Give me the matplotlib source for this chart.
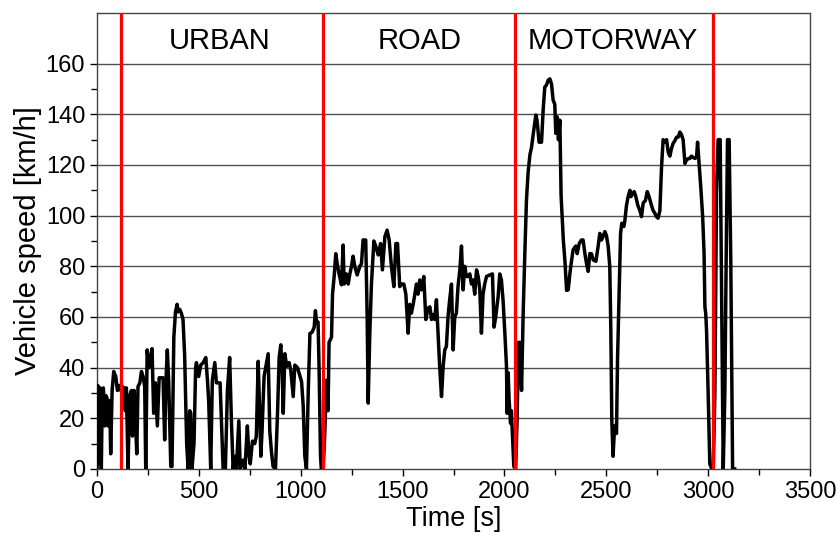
import matplotlib
matplotlib.use("Agg")
import matplotlib.pyplot as plt
import numpy as np
from matplotlib.ticker import MultipleLocator, FixedLocator

# ---- data ----
time_urban = [0, 3, 8, 11, 15, 21, 26, 31, 38, 43, 49, 54, 62, 67, 74, 82, 92, 100, 108, 116,
              125, 133, 139, 144, 152, 160, 169, 174, 182, 188, 195, 201, 210, 218, 226, 234, 239,
              246, 254, 262, 270, 278, 286, 296, 305, 316, 324, 332, 340, 345, 352, 362, 368, 377,
              385, 393, 398, 406, 414, 422, 430, 440, 447, 455, 460, 466, 476, 484, 488, 499, 509,
              521, 534, 542, 548, 558, 566, 578, 586, 595, 604, 619, 630, 640, 651, 660, 668, 676,
              684, 696, 703, 717, 726, 738, 745, 752, 763, 774, 782, 791, 799, 804, 810, 820, 832,
              840, 848, 856, 864, 876, 886, 894, 902, 909, 914, 922, 931, 943, 951, 963, 971, 984,
              995, 1004, 1012, 1020, 1028, 1037, 1045, 1056, 1066, 1072, 1078, 1085, 1090, 1097,
              1101, 1110]
speed_urban = [0, 33, 32, 2, 32, 0, 31, 32, 17, 29, 28, 17, 27, 6, 31, 38.5, 36.5, 31, 33, 31,
               32.5, 32, 23, 32, 0, 29, 31, 13, 31, 21, 6, 32.5, 34, 38.5, 36.5, 32.5, 0,
               47, 40, 44, 47.5, 22, 34, 17, 36, 36, 36, 11.5, 38, 47, 34, 1, 1, 52,
               62, 65, 62, 63, 61.5, 59, 45, 10, 0, 23, 22, 0, 10, 40, 42, 36.5, 41,
               42, 44, 35, 27, 0, 35, 42, 34, 34, 34, 0, 0, 31, 44, 18, 0, 5,
               0, 19, 0, 3.5, 0, 17, 6, 2, 11, 10, 13, 42.5, 21, 5, 15, 36.5, 42,
               45.5, 15, 7, 1, 0, 22, 44, 49, 39, 22, 45.5, 40.5, 42, 39, 28.6, 41, 40,
               37, 34.5, 25, 5, 0, 31, 53.5, 54, 56, 62.5, 57.5, 58, 40, 5,
               0, 0]

time_road = [1118, 1126, 1134, 1139, 1151, 1156, 1164, 1172, 1179, 1188, 1200, 1208, 1213, 1224,
             1233, 1241, 1249, 1257, 1265, 1277, 1290, 1298, 1306, 1319, 1326, 1331, 1339, 1347,
             1359, 1368, 1380, 1392, 1401, 1413, 1424, 1434, 1445, 1457, 1467, 1475, 1486, 1494,
             1506, 1516, 1527, 1535, 1543, 1552, 1560, 1568, 1576, 1584, 1593, 1604, 1614, 1625,
             1634, 1642, 1650, 1658, 1666, 1674, 1682, 1691, 1699, 1707, 1715, 1723, 1731, 1740,
             1748, 1756, 1764, 1772, 1781, 1789, 1797, 1805, 1813, 1822, 1830, 1838, 1846, 1854,
             1863, 1871, 1879, 1887, 1895, 1903, 1912, 1928, 1941, 1949, 1957, 1969, 1977, 1985,
             1993, 2002, 2010, 2013, 2018, 2023, 2030, 2034, 2039, 2046, 2055]
speed_road = [14, 35, 23, 50, 52, 69, 76, 85, 81, 77, 72.7, 88.4, 73, 77,
              73, 77, 80, 84, 80, 76.6, 80, 81, 90.4, 90.4, 60, 26, 53.6, 73,
              90, 88, 84.5, 89, 78.6, 91.7, 94.3, 90.4, 80, 72, 89, 89, 72, 73,
              73, 69, 53.6, 65, 61.5, 65, 69, 73, 69, 74.6, 70.7, 76, 59, 63.5,
              64, 59, 61, 59, 66.8, 53.6, 40.5, 28.6, 40.5, 47, 48.4, 60, 66.8, 73,
              47, 60, 61.5, 72, 78.6, 88, 70.7, 80, 76, 76, 77, 73, 74.6, 69,
              78.6, 76, 70.7, 53.6, 69, 73, 76, 76.6, 77, 56, 60, 68, 77, 74.6,
              66.8, 53.6, 40.5, 22, 38, 27, 18, 23, 14, 1, 0]

time_motorway = [2062, 2069, 2075, 2084, 2092, 2100, 2108, 2116, 2125, 2133, 2141, 2154, 2160,
                 2170, 2182, 2190, 2198, 2206, 2215, 2223, 2231, 2239, 2247, 2252, 2259, 2265,
                 2272, 2278, 2289, 2297, 2305, 2313, 2321, 2329, 2337, 2350, 2357, 2367, 2378,
                 2386, 2395, 2403, 2411, 2419, 2427, 2436, 2449, 2460, 2468, 2476, 2484, 2493,
                 2501, 2509, 2517, 2522, 2527, 2533, 2541, 2550, 2555, 2563, 2570, 2576, 2586,
                 2591, 2599, 2607, 2616, 2621, 2629, 2637, 2645, 2655, 2665, 2673, 2681, 2692,
                 2701, 2710, 2722, 2730, 2738, 2746, 2754, 2763, 2771, 2779, 2787, 2796, 2804,
                 2812, 2820, 2828, 2836, 2845, 2853, 2861, 2869, 2877, 2886, 2894, 2902, 2910,
                 2918, 2926, 2935, 2943, 2948, 2955, 2964, 2973, 2980, 2984, 2988, 2992, 3000,
                 3008, 3018]
speed_motorway = [19.5, 50, 50, 31, 62, 85, 106, 117, 124, 127, 132, 139.7, 137.7,
                  129, 129, 141.7, 150.8, 151.5, 153.5, 154, 152, 145.6, 144, 132.5, 139, 130,
                  137.7, 108, 90.4, 82, 70.5, 70.7, 77, 82, 86.5, 88, 85, 89, 90.4,
                  90.4, 85, 81, 78, 85, 85, 82.5, 82, 88, 93, 90.4, 91.7, 93.7,
                  92, 88, 80, 56, 19.4, 5, 17, 14, 43, 69.4, 93, 97, 95.7,
                  98, 104, 107.5, 110, 107.5, 108.8, 109.5, 107.5, 104, 102, 99.6, 105, 106,
                  109.5, 107.5, 104, 102, 101, 99.6, 99, 102, 119, 130, 129, 130, 125,
                  123.5, 126.5, 128.5, 129.5, 131, 131, 133, 132, 130, 120.6, 122, 122.5, 122.6,
                  123.5, 123, 122.6, 123, 129, 121, 111, 99.6, 85, 64, 61.5, 55, 30,
                  2, 0]

time_end = [3025, 3033, 3041, 3049, 3059, 3066, 3074, 3082, 3090, 3095, 3103, 3111, 3120, 3130]
speed_end = [0, 30, 109, 130, 130, 69, 0, 30, 95.6, 130, 130, 82.5, 0, 0]

section_bounds = [118, 1109, 2051, 3024]
section_names = ["URBAN", "ROAD", "MOTORWAY"]
section_label_x = [602, 1585, 2533]
section_label_y = 169

x_ticks = [0, 500, 1000, 1500, 2000, 2500, 3000, 3500]
y_ticks = [0, 20, 40, 60, 80, 100, 120, 140, 160]

time = time_urban + time_road + time_motorway + time_end
speed = speed_urban + speed_road + speed_motorway + speed_end

# ---- figure ----
plt.rcParams['font.family'] = ['Liberation Sans', 'DejaVu Sans']
fig = plt.figure(figsize=(8.38, 5.35), dpi=100)
ax = fig.add_axes([0.1158, 0.1234, 0.9666 - 0.1158, 0.9757 - 0.1234])

ax.set_xlim(0, 3500)
ax.set_ylim(0, 180)

for yv in y_ticks[1:]:
    ax.axhline(yv, color='#505050', lw=1.0, zorder=1)

ax.plot(time, speed, color='black', lw=2.5, zorder=3, solid_joinstyle='round')

for xb in section_bounds:
    ax.axvline(xb, color='#ff0000', lw=2.3, zorder=4)

for name, xl in zip(section_names, section_label_x):
    ax.text(xl, section_label_y, name, ha='center', va='center', fontsize=21)

ax.set_xticks(x_ticks)
ax.set_yticks(y_ticks)
ax.xaxis.set_minor_locator(MultipleLocator(250))
ax.yaxis.set_minor_locator(FixedLocator(list(range(10, 160, 20))))
ax.tick_params(axis='both', which='major', direction='out', length=5, width=1, labelsize=17)
ax.tick_params(axis='both', which='minor', direction='out', length=4, width=1)
ax.tick_params(top=False, right=False)

for sp in ax.spines.values():
    sp.set_color('#444444')
    sp.set_linewidth(1.0)

ax.set_xlabel("Time [s]", fontsize=19.5, labelpad=2)
ax.set_ylabel("Vehicle speed [km/h]", fontsize=21, labelpad=3)

fig.savefig("out.png", dpi=100)
